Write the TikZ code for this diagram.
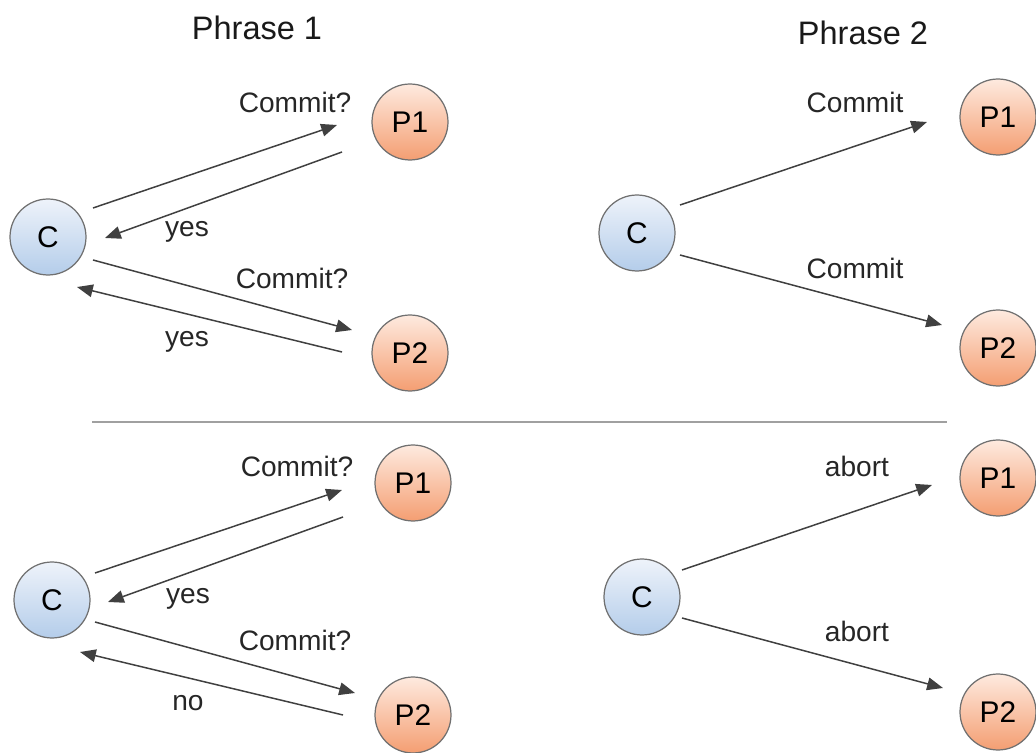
\documentclass[tikz,border=0pt]{standalone}
\usepackage{fontspec}
\setmainfont{Liberation Sans}
\usetikzlibrary{arrows.meta,calc}
\definecolor{arrowgray}{HTML}{404040}
\definecolor{cTop}{HTML}{EEF3FA}
\definecolor{cBot}{HTML}{B4CDEA}
\definecolor{pTop}{HTML}{FEEADF}
\definecolor{pBot}{HTML}{F49E72}
\definecolor{ringgray}{HTML}{707070}
\definecolor{sepgray}{HTML}{A0A0A0}
\tikzset{
  coord/.style={circle,minimum size=1.52cm,inner sep=0pt,draw=ringgray,line width=0.7pt,
    top color=cTop,bottom color=cBot,font=\fontsize{17}{19}\selectfont},
  part/.style={circle,minimum size=1.52cm,inner sep=0pt,draw=ringgray,line width=0.7pt,
    top color=pTop,bottom color=pBot,font=\fontsize{17}{19}\selectfont},
  msg/.style={draw=arrowgray,line width=0.85pt,-{Triangle[length=9pt,width=7.2pt]}},
  lbl/.style={anchor=base,inner sep=0pt,font=\fontsize{16}{18}\selectfont,text=black!85},
  ttl/.style={anchor=base,inner sep=0pt,font=\fontsize{18.5}{20}\selectfont,text=black!90}
}
\begin{document}
\begin{tikzpicture}[x=0.02cm,y=-0.02cm]
\useasboundingbox (0,0) rectangle (1036,753);
% titles
\node[ttl] (t1) at (257,40) {Phrase 1};
\node[ttl] (t2) at (863,45) {Phrase 2};
% separator
\coordinate (s1) at (92,422);
\coordinate (s2) at (947,422);
\draw[sepgray,line width=1.2pt] (s1) -- (s2);

% ---- top left ----
\node[coord] (C1) at (48,237) {C};
\node[part] (P11) at (410,122) {P1};
\node[part] (P21) at (410,353) {P2};
\draw[msg] ($(C1)+(45,-29)$) -- ($(P11)+(-73,3)$);
\draw[msg] ($(P11)+(-68,30)$) -- ($(C1)+(57,1)$);
\draw[msg] ($(C1)+(45,23)$) -- ($(P21)+(-58,-23)$);
\draw[msg] ($(P21)+(-68,-1)$) -- ($(C1)+(29,50)$);
\node[lbl] (l1) at (295,113) {Commit?};
\node[lbl] (l2) at (187,237) {yes};
\node[lbl] (l3) at (292,289) {Commit?};
\node[lbl] (l4) at (187,347) {yes};

% ---- top right ----
\node[coord] (C2) at (637,233) {C};
\node[part] (P12) at (998,117) {P1};
\node[part] (P22) at (998,348) {P2};
\draw[msg] ($(C2)+(43,-28)$) -- ($(P12)+(-71,5)$);
\draw[msg] ($(C2)+(43,22)$) -- ($(P22)+(-56,-23)$);
\node[lbl] (l5) at (855,113) {Commit};
\node[lbl] (l6) at (855,279) {Commit};

% ---- bottom left ----
\node[coord] (C3) at (52,600) {C};
\node[part] (P13) at (413,483) {P1};
\node[part] (P23) at (413,715) {P2};
\draw[msg] ($(C3)+(43,-27)$) -- ($(P13)+(-71,7)$);
\draw[msg] ($(P13)+(-70,34)$) -- ($(C3)+(56,2)$);
\draw[msg] ($(C3)+(43,22)$) -- ($(P23)+(-58,-22)$);
\draw[msg] ($(P23)+(-70,0)$) -- ($(C3)+(28,52)$);
\node[lbl] (l7) at (297,477) {Commit?};
\node[lbl] (l8) at (188,603) {yes};
\node[lbl] (l9) at (295,651) {Commit?};
\node[lbl] (l10) at (188,710) {no};

% ---- bottom right ----
\node[coord] (C4) at (642,597) {C};
\node[part] (P14) at (998,478) {P1};
\node[part] (P24) at (998,712) {P2};
\draw[msg] ($(C4)+(40,-27)$) -- ($(P14)+(-66,7)$);
\draw[msg] ($(C4)+(40,21)$) -- ($(P24)+(-55,-24)$);
\node[lbl] (l11) at (857,477) {abort};
\node[lbl] (l12) at (857,642) {abort};
\end{tikzpicture}
\end{document}
